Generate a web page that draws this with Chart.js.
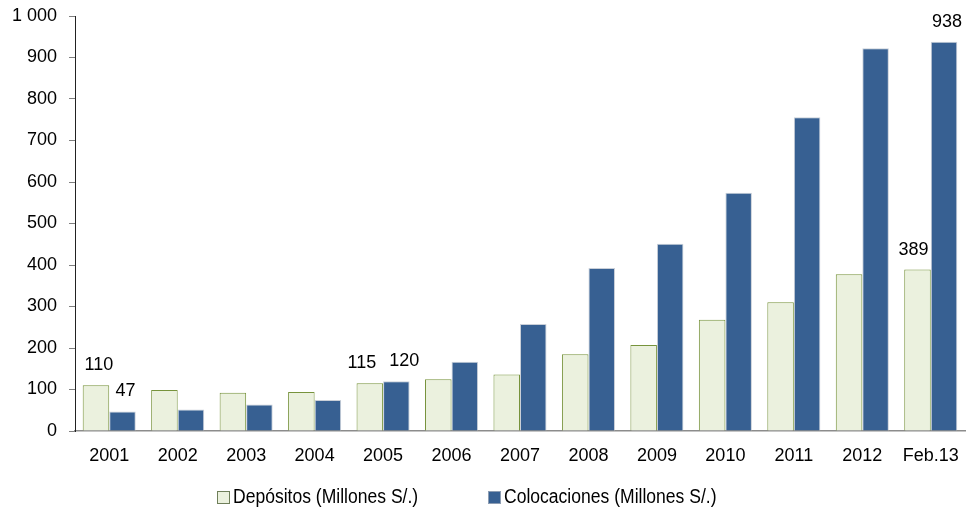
<!DOCTYPE html>
<html>
<head>
<meta charset="utf-8">
<script src="https://cdn.jsdelivr.net/npm/chart.js@4"></script>
<style>
  html, body { margin: 0; padding: 0; background: #fff; }
  #wrap { width: 966px; height: 514px; }
</style>
</head>
<body>
<div id="wrap"><canvas id="myChart" width="966" height="514"></canvas></div>
<script>
// datos
const categorias = ["2001", "2002", "2003", "2004", "2005", "2006", "2007", "2008", "2009", "2010", "2011", "2012", "Feb.13"];
const depositos = [110, 99, 92, 94, 115, 125, 136, 185, 207, 268, 310, 378, 389];
const colocaciones = [47, 52, 64, 75, 120, 167, 258, 393, 451, 574, 756, 922, 938];
// indices que llevan etiqueta de valor
const etiquetasDep = [0, 4, 12];
const etiquetasCol = [0, 4, 12];
const ticksY = [0, 100, 200, 300, 400, 500, 600, 700, 800, 900, 1000];

const fuente = "'Liberation Sans', Arial, sans-serif";

// corrimiento horizontal de cada etiqueta (para que no se pisen)
const corrDep = [3, -8, -4];
const corrCol = [3, 8, 3];

// etiquetas encima de las barras
const etiquetas = {
    id: "etiquetas",
    afterDatasetsDraw(chart) {
        const ctx = chart.ctx;
        const listas = [etiquetasDep, etiquetasCol];
        const corr = [corrDep, corrCol];
        ctx.save();
        ctx.font = "18px " + fuente;
        ctx.fillStyle = "#000";
        ctx.textAlign = "center";
        ctx.textBaseline = "middle";
        chart.data.datasets.forEach((ds, i) => {
            const meta = chart.getDatasetMeta(i);
            listas[i].forEach((idx, k) => {
                const bar = meta.data[idx];
                ctx.fillText(String(ds.data[idx]), bar.x + corr[i][k], bar.y - 20);
            });
        });
        ctx.restore();
    }
};

// leyenda abajo, letra angosta como la original
const leyenda = {
    id: "leyenda",
    afterDraw(chart) {
        const ctx = chart.ctx;
        const posX = [217, 488];
        const y = 497;
        const angosto = 0.877;
        ctx.save();
        ctx.textBaseline = "middle";
        ctx.textAlign = "left";
        chart.data.datasets.forEach((ds, i) => {
            ctx.fillStyle = ds.backgroundColor;
            ctx.fillRect(posX[i], y - 6, 12, 12);
            ctx.strokeStyle = i === 0 ? "#6f7f5a" : "#8d9db3";
            ctx.lineWidth = 1;
            ctx.strokeRect(posX[i] + 0.5, y - 5.5, 12, 12);
            ctx.save();
            ctx.translate(posX[i] + 16, y);
            ctx.scale(angosto, 1);
            ctx.font = "20px " + fuente;
            ctx.fillStyle = "#000";
            ctx.fillText(ds.label, 0, 0);
            ctx.restore();
        });
        ctx.restore();
    }
};

const config = {
    type: "bar",
    data: {
        labels: categorias,
        datasets: [
            {
                label: "Depósitos (Millones S/.)",
                data: depositos,
                backgroundColor: "#EBF1DE",
                borderColor: "#77933C",
                borderWidth: 1,
                categoryPercentage: 0.775,
                barPercentage: 1.0
            },
            {
                label: "Colocaciones (Millones S/.)",
                data: colocaciones,
                backgroundColor: "#376092",
                borderColor: "#c9cfd8",
                borderWidth: 1,
                categoryPercentage: 0.775,
                barPercentage: 1.0
            }
        ]
    },
    options: {
        responsive: false,
        animation: false,
        layout: { padding: { top: 16, right: 1, bottom: 43, left: 0 } },
        plugins: {
            legend: { display: false },
            tooltip: { enabled: false }
        },
        scales: {
            x: {
                grid: { display: false, drawTicks: true, tickLength: 10 },
                border: { display: true, color: "#8c8c8c", width: 1.5 },
                ticks: { color: "#000", font: { family: fuente, size: 18 }, padding: 4, maxRotation: 0 },
                afterFit(scale) { scale.height = 40; }
            },
            y: {
                min: 0,
                max: 1000,
                grid: { drawOnChartArea: false, drawTicks: true, tickLength: 6, color: "#7f7f7f" },
                border: { display: true, color: "#222", width: 1 },
                afterBuildTicks(scale) { scale.ticks = ticksY.map((v) => ({ value: v })); },
                ticks: {
                    color: "#000",
                    font: { family: fuente, size: 18 },
                    padding: 12,
                    callback: (v) => v >= 1000 ? "1 000" : String(v)
                },
                afterFit(scale) {
                    scale.width = 75;
                    scale.paddingTop = 0;
                    scale.paddingBottom = 0;
                }
            }
        }
    },
    plugins: [etiquetas, leyenda]
};

const chartDOM = document.getElementById("myChart");
const myChart = new Chart(chartDOM, config);
</script>
</body>
</html>
